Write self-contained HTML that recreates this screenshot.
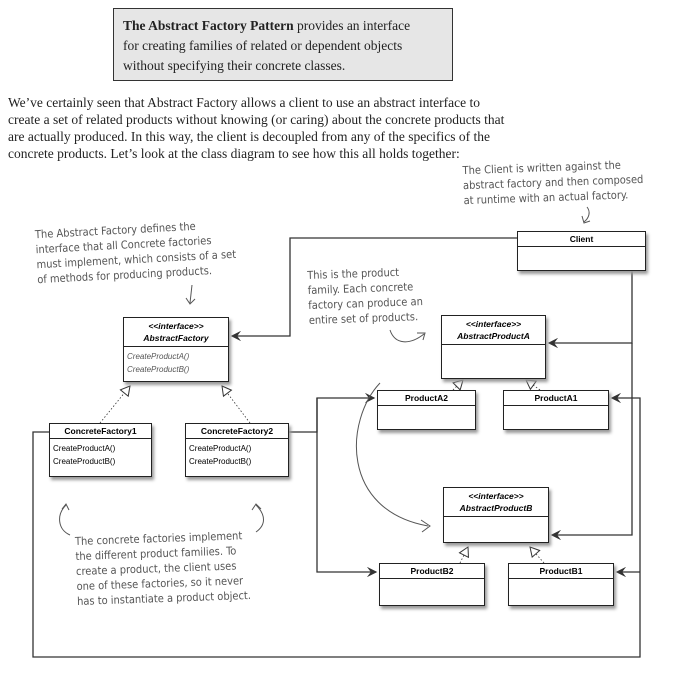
<!DOCTYPE html>
<html><head><meta charset="utf-8"><style>
body{margin:0;width:682px;height:676px;background:#fff;position:relative;overflow:hidden;font-family:"Liberation Serif",serif;}
.top{position:absolute;left:113px;top:8px;width:340px;height:73px;box-sizing:border-box;background:#e6e6e6;border:1.5px solid #333;padding:7px 0 0 9px;font-size:13.5px;line-height:20px;color:#222;white-space:nowrap;}
.para{position:absolute;left:8px;top:94px;width:660px;font-size:13.5px;line-height:17px;color:#222;white-space:nowrap;}
.hw{position:absolute;font-family:"DejaVu Sans Condensed","Liberation Sans Narrow",sans-serif;color:#555;font-size:11px;line-height:15px;white-space:nowrap;}
.box{position:absolute;background:#fff;border:1.3px solid #222;box-shadow:2px 3px 3px #999;box-sizing:border-box;font-family:"Liberation Sans",sans-serif;font-size:8px;}
.box .h{border-bottom:1.2px solid #222;text-align:center;font-weight:bold;font-size:8.5px;padding:2px 0;}
.box .m{padding:3px 3px 0;line-height:13px;}
i{font-style:italic}
</style></head><body>
<div class="top"><b>The Abstract Factory Pattern</b> provides an interface<br>for creating families of related or dependent objects<br>without specifying their concrete classes.</div>
<div class="para">We’ve certainly seen that Abstract Factory allows a client to use an abstract interface to<br>create a set of related products without knowing (or caring) about the concrete products that<br>are actually produced. In this way, the client is decoupled from any of the specifics of the<br>concrete products. Let’s look at the class diagram to see how this all holds together:</div>
<div class="hw" style="left:463px;top:160px;transform:rotate(-2deg)">The Client is written against the<br>abstract factory and then composed<br>at runtime with an actual factory.</div>
<div class="hw" style="left:36px;top:222px;transform:rotate(-3deg)">The Abstract Factory defines the<br>interface that all Concrete factories<br>must implement, which consists of a set<br>of methods for producing products.</div>
<div class="hw" style="left:308px;top:266px;transform:rotate(-2deg)">This is the product<br>family. Each concrete<br>factory can produce an<br>entire set of products.</div>
<div class="hw" style="left:76px;top:531px;transform:rotate(-2deg)">The concrete factories implement<br>the different product families. To<br>create a product, the client uses<br>one of these factories, so it never<br>has to instantiate a product object.</div>

<svg width="682" height="676" style="position:absolute;left:0;top:0" fill="none" stroke="#333">
<defs>
<marker id="a" markerWidth="8" markerHeight="8" refX="7" refY="4" orient="auto"><path d="M0,0 L8,4 L0,8 L3,4 Z" fill="#333" stroke="none"/></marker>
<marker id="t" markerWidth="12" markerHeight="12" refX="10" refY="6" orient="auto" markerUnits="userSpaceOnUse"><path d="M1,1 L10,6 L1,11 Z" fill="#fff" stroke="#333" stroke-width="1"/></marker>
</defs>
<g stroke-width="1.3">
<path d="M517,238 H290 V336 H232" marker-end="url(#a)"/>
<path d="M646,238 H632 V343 H549" marker-end="url(#a)"/>
<path d="M632,343 V535 H552" marker-end="url(#a)"/>
<path d="M49,432 H33 V657 H640 V398 H612" marker-end="url(#a)"/>
<path d="M640,572 H617" marker-end="url(#a)"/>
<path d="M289,432 H317 V398 H374" marker-end="url(#a)"/>
<path d="M317,398 V572 H376" marker-end="url(#a)"/>
</g>
<g stroke-width="0.8" stroke-dasharray="1.5,2">
<path d="M100,423 L130,386" marker-end="url(#t)"/>
<path d="M250,423 L222,386" marker-end="url(#t)"/>
<path d="M453,390 L463,380" marker-end="url(#t)"/>
<path d="M540,390 L526,380" marker-end="url(#t)"/>
<path d="M460,563 L468,547" marker-end="url(#t)"/>
<path d="M544,563 L530,547" marker-end="url(#t)"/>
</g>
<g stroke="#555" stroke-width="1">
<path d="M380,383 C345,420 340,510 428,526"/><path d="M421,520 L430,526 L422,532"/>
<path d="M390,330 C395,345 410,345 424,334"/><path d="M417,333 L425,333 L423,340"/>
<path d="M192,285 L190,303"/><path d="M186,298 L190,304 L195,299"/>
<path d="M587,207 C591,212 589,218 584,222"/><path d="M582,216 L584,223 L590,221"/>
<path d="M66,505 C56,515 58,530 70,535"/><path d="M62,509 L66,504 L69,510"/>
<path d="M256,505 C266,515 266,525 256,532"/><path d="M252,510 L256,504 L261,509"/>
</g>
</svg>

<div class="box" style="left:517px;top:231px;width:129px;height:40px"><div class="h">Client</div></div>
<div class="box" style="left:123px;top:317px;width:106px;height:65px"><div class="h" style="line-height:12px"><i>&lt;&lt;interface&gt;&gt;</i><br><i>AbstractFactory</i></div><div class="m" style="color:#555"><i>CreateProductA()</i><br><i>CreateProductB()</i></div></div>
<div class="box" style="left:441px;top:315px;width:105px;height:64px"><div class="h" style="line-height:12px"><i>&lt;&lt;interface&gt;&gt;</i><br><i>AbstractProductA</i></div></div>
<div class="box" style="left:377px;top:390px;width:99px;height:40px"><div class="h">ProductA2</div></div>
<div class="box" style="left:503px;top:390px;width:106px;height:40px"><div class="h">ProductA1</div></div>
<div class="box" style="left:49px;top:423px;width:103px;height:54px"><div class="h">ConcreteFactory1</div><div class="m">CreateProductA()<br>CreateProductB()</div></div>
<div class="box" style="left:185px;top:423px;width:104px;height:54px"><div class="h">ConcreteFactory2</div><div class="m">CreateProductA()<br>CreateProductB()</div></div>
<div class="box" style="left:443px;top:487px;width:106px;height:56px"><div class="h" style="line-height:12px"><i>&lt;&lt;interface&gt;&gt;</i><br><i>AbstractProductB</i></div></div>
<div class="box" style="left:379px;top:563px;width:106px;height:43px"><div class="h">ProductB2</div></div>
<div class="box" style="left:508px;top:563px;width:106px;height:43px"><div class="h">ProductB1</div></div>
</body></html>
